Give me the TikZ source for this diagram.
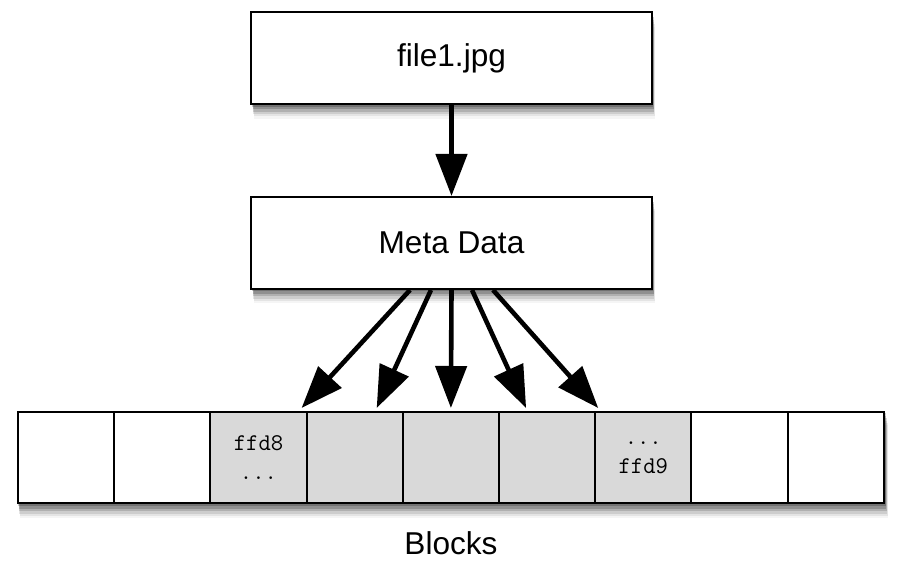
\documentclass[tikz,border=0pt]{standalone}
\usepackage{fontspec}
\setmainfont{Liberation Sans}
\usetikzlibrary{arrows.meta,shadows,calc,backgrounds}
\tikzset{
  softshadow/.style={
    drop shadow={shadow xshift=0.6pt, shadow yshift=-1.2pt, opacity=0.2, fill=black},
    drop shadow={shadow xshift=0.8pt, shadow yshift=-2.4pt, opacity=0.18, fill=black},
    drop shadow={shadow xshift=1.0pt, shadow yshift=-3.6pt, opacity=0.14, fill=black},
    drop shadow={shadow xshift=1.2pt, shadow yshift=-4.8pt, opacity=0.1, fill=black},
    drop shadow={shadow xshift=1.4pt, shadow yshift=-6.0pt, opacity=0.07, fill=black},
    drop shadow={shadow xshift=1.6pt, shadow yshift=-7.2pt, opacity=0.04, fill=black}},
  bigbox/.style={draw=black, line width=1pt, fill=white, minimum width=200.5pt, minimum height=46pt,
    inner sep=0pt, font=\fontsize{15.8pt}{19pt}\selectfont},
  cell/.style={draw=black, line width=1pt, fill=white, minimum width=48.1pt, minimum height=45.5pt,
    inner sep=0pt, align=center, font=\ttfamily\fontsize{12pt}{14.5pt}\selectfont},
  graycell/.style={cell, fill=graycellc},
  arr/.style={line width=2.3pt, -{Triangle[length=21pt, width=15.5pt]}, shorten >=0pt}
}
\definecolor{graycellc}{HTML}{D9D9D9}
\begin{document}
\begin{tikzpicture}[x=0.5pt, y=-0.5pt]
\useasboundingbox (0,0) rectangle (900,571);
\node[bigbox, softshadow] (file) at (451.5,58.5) {file1.jpg};
\node[bigbox, softshadow] (meta) at (451.5,243) {Meta Data};
\node[cell]     (c1) at (66.1,457.5) {};
\node[cell]     (c2) at (162.3,457.5) {};
\node[graycell] (c3) at (258.5,457.5) {ffd8\\...};
\node[graycell] (c4) at (354.7,457.5) {};
\node[graycell] (c5) at (450.9,457.5) {};
\node[graycell] (c6) at (547.1,457.5) {};
\node[graycell] (c7) at (643.3,457.5) {...\\ffd9};
\node[cell]     (c8) at (739.5,457.5) {};
\node[cell]     (c9) at (835.7,457.5) {};
\begin{scope}[on background layer]
  \path[softshadow, fill=white] (c1.north west) rectangle (c9.south east);
\end{scope}
\node[font=\fontsize{15.8pt}{19pt}\selectfont] (blocks) at (451,543) {Blocks};
\draw[arr] (file.south) -- (meta.north);
\draw[arr] ($(meta.south)+(-41.5,0)$) -- ($(c4.north west)+(-4,-3)$);
\draw[arr] ($(meta.south)+(-20.5,0)$) -- ($(c4.north)+(22,-3)$);
\draw[arr] (meta.south) -- ($(c5.north)+(0,-3)$);
\draw[arr] ($(meta.south)+(20.5,0)$) -- ($(c6.north)+(-21,-3)$);
\draw[arr] ($(meta.south)+(41.5,0)$) -- ($(c7.north west)+(4,-3)$);
\end{tikzpicture}
\end{document}
